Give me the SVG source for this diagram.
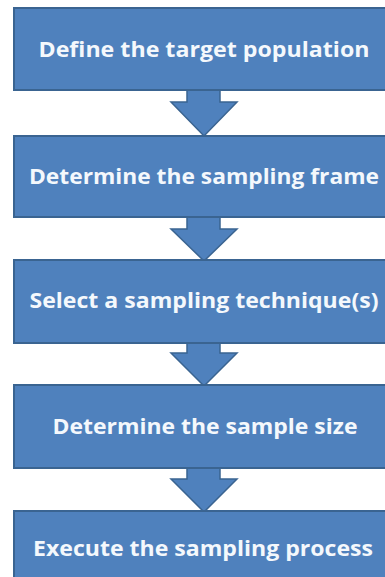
<svg xmlns="http://www.w3.org/2000/svg" width="385" height="577" viewBox="0 0 385 577">
<style>
.box{fill:#4f81bd;stroke:#3a6491;stroke-width:2}
.arr{fill:#4f81bd;stroke:#3a6491;stroke-width:1.5;stroke-linejoin:miter}
.lbl{font-family:"Open Sans","Liberation Sans",sans-serif;font-weight:bold;font-size:21.5px;fill:#f4f8fc;text-anchor:middle}
</style>
<rect width="385" height="577" fill="#ffffff"/>
<g id="connectors">
<path class="arr" d="M187,89 V102 H171 L204,136 L237,102 H220 V89"/>
<path class="arr" d="M187,216 V229 H171 L204,261 L237,229 H220 V216"/>
<path class="arr" d="M187,342 V353 H171 L204,386 L237,353 H220 V342"/>
<path class="arr" d="M187,467 V479 H171 L204,512 L237,479 H220 V467"/>
</g>
<g id="n1"><rect class="box" x="14" y="8" width="380" height="82"/><text class="lbl" x="204" y="57" textLength="331" lengthAdjust="spacingAndGlyphs">Define the target population</text></g>
<g id="n2"><rect class="box" x="14" y="136" width="380" height="81"/><text class="lbl" x="204" y="184" textLength="350" lengthAdjust="spacingAndGlyphs">Determine the sampling frame</text></g>
<g id="n3"><rect class="box" x="14" y="260" width="380" height="83"/><text class="lbl" x="204" y="308" textLength="349" lengthAdjust="spacingAndGlyphs">Select a sampling technique(s)</text></g>
<g id="n4"><rect class="box" x="14" y="385" width="380" height="83"/><text class="lbl" x="205" y="434" textLength="305" lengthAdjust="spacingAndGlyphs">Determine the sample size</text></g>
<g id="n5"><rect class="box" x="14" y="511" width="380" height="82"/><text class="lbl" x="203" y="556" textLength="340" lengthAdjust="spacingAndGlyphs">Execute the sampling process</text></g>
</svg>
